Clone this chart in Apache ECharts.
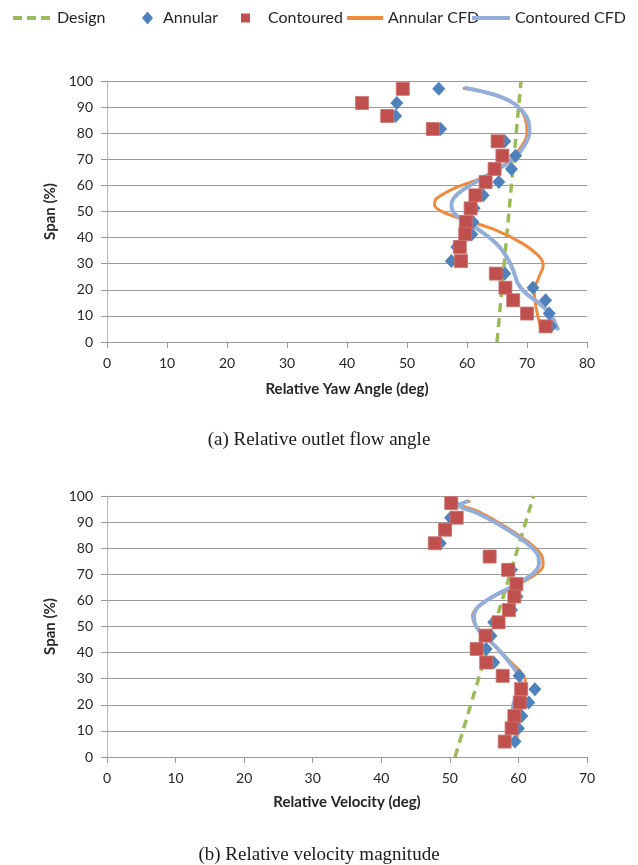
<!DOCTYPE html>
<html>
<head>
<meta charset="utf-8">
<script src="https://cdn.jsdelivr.net/npm/echarts@6/dist/echarts.min.js"></script>
<style>
  html, body { margin: 0; padding: 0; background: #fff; }
  #chart { width: 638px; height: 865px; }
</style>
</head>
<body>
<div id="chart"></div>
<script>
// ---- (a) Relative outlet flow angle ----
const spanA        = [97.0, 91.6, 86.6, 81.6, 76.9, 71.4, 66.3, 61.3, 56.2, 51.2, 46.0, 41.3, 36.4, 31.0, 26.2, 20.8, 16.0, 10.9, 6.0];
const yawAnnular   = [55.3, 48.3, 48.1, 55.6, 66.3, 68.1, 67.4, 65.3, 62.7, 61.2, 61.0, 60.8, 58.3, 57.4, 66.3, 71.0, 73.1, 73.7, 74.0];
const yawContoured = [49.3, 42.5, 46.7, 54.3, 65.1, 65.9, 64.6, 63.1, 61.4, 60.6, 59.8, 59.7, 58.8, 59.0, 64.8, 66.4, 67.7, 70.0, 73.1];

const yawDesignX = [65.0, 69.0];
const yawDesignY = [0, 100];

const yawAnnCfdX = [59.3, 62.1, 65.4, 68.6, 69.9, 70.0, 69.2, 67.1, 62.7, 57.7, 54.9, 54.6, 56.0, 59.9, 64.9, 69.3, 72.1, 72.7, 72.0, 71.2, 71.5, 72.0, 72.2];
const yawAnnCfdY = [97.2, 96.2, 94.1, 90.0, 83.7, 79.8, 75.4, 69.6, 63.2, 58.7, 54.9, 52.4, 49.8, 46.6, 42.8, 37.7, 32.6, 29.4, 24.9, 19.5, 13.4, 8.0, 6.0];

const yawConCfdX = [59.6, 62.1, 65.4, 68.2, 70.2, 70.4, 69.6, 67.9, 64.9, 61.0, 58.2, 57.4, 57.9, 59.6, 62.1, 64.9, 66.6, 67.7, 68.5, 69.9, 72.1, 73.8, 75.2];
const yawConCfdY = [97.4, 96.2, 94.1, 90.7, 84.9, 80.5, 75.4, 70.6, 65.8, 60.7, 56.2, 52.4, 49.2, 46.6, 42.8, 37.7, 32.6, 27.5, 22.3, 18.5, 14.7, 10.9, 4.5];

// ---- (b) Relative velocity magnitude ----
const spanB        = [97.3, 91.7, 87.1, 81.9, 76.8, 71.7, 66.3, 61.5, 56.3, 51.6, 46.5, 41.4, 36.2, 31.1, 26.0, 20.9, 15.7, 11.0, 5.9];
const velAnnular   = [50.4, 50.1, 49.4, 48.6, 55.9, 59.0, 59.8, 59.8, 59.0, 56.4, 56.0, 55.3, 56.4, 60.1, 62.4, 61.5, 60.5, 60.0, 59.5];
const velContoured = [50.2, 51.0, 49.3, 47.8, 55.8, 58.5, 59.7, 59.4, 58.6, 57.1, 55.2, 53.9, 55.3, 57.7, 60.4, 60.2, 59.4, 59.0, 58.0];

const velDesignX = [50.75, 62.2];
const velDesignY = [0, 100];

const velAnnCfdX = [53.0, 51.5, 54.2, 58.0, 61.6, 63.5, 63.6, 62.6, 60.1, 57.2, 54.3, 53.3, 53.6, 55.1, 56.8, 58.7, 60.4, 61.0, 60.9, 60.5, 60.0, 59.9, 59.8];
const velAnnCfdY = [98.0, 96.9, 94.0, 88.4, 82.0, 76.5, 73.5, 70.2, 66.3, 62.5, 58.0, 54.2, 51.0, 46.5, 42.0, 36.9, 32.4, 29.2, 25.4, 21.5, 16.4, 11.3, 6.8];

const velConCfdX = [52.7, 51.4, 53.9, 57.6, 61.0, 62.9, 63.0, 62.1, 59.4, 56.5, 54.1, 53.5, 53.9, 55.3, 57.0, 58.7, 59.9, 60.4, 59.9, 59.2, 59.2, 59.6];
const velConCfdY = [98.1, 96.4, 93.6, 88.4, 82.4, 77.0, 74.0, 70.2, 65.7, 61.8, 57.4, 53.5, 49.7, 45.8, 41.4, 36.2, 31.8, 27.9, 24.1, 19.0, 13.8, 8.7];

const xTicksA = [0, 80, 10];
const xTicksB = [0, 70, 10];

const pair = (xs, ys) => xs.map((x, i) => [x, ys[i]]);

const C_DESIGN = '#9BBB59';
const C_ANN = '#4F81BD';
const C_CON = '#C0504D';
const C_ANN_CFD = '#F08A3C';
const C_CON_CFD = '#93AED8';
const FONT = 'Lato';

function axisPair(idx, xr, xName, xGap) {
  const x = {
    type: 'value', gridIndex: idx, min: xr[0], max: xr[1], interval: xr[2],
    name: xName, nameLocation: 'middle', nameGap: xGap,
    nameTextStyle: { fontFamily: FONT, fontWeight: 'bold', fontSize: 15, color: '#262626' },
    axisLine: { show: true, lineStyle: { color: '#9a9a9a', width: 1 } },
    axisTick: { show: true, length: 6, lineStyle: { color: '#9a9a9a' } },
    axisLabel: { fontFamily: FONT, fontSize: 14, color: '#262626', margin: 14 },
    splitLine: { show: false }
  };
  const y = {
    type: 'value', gridIndex: idx, min: 0, max: 100, interval: 10,
    name: 'Span (%)', nameLocation: 'middle', nameGap: 46, nameRotate: 90,
    nameTextStyle: { fontFamily: FONT, fontWeight: 'bold', fontSize: 15, color: '#262626' },
    axisLine: { show: true, lineStyle: { color: '#b5b5b5', width: 1 } },
    axisTick: { show: true, length: 6, lineStyle: { color: '#9a9a9a' } },
    axisLabel: { fontFamily: FONT, fontSize: 14, color: '#262626', margin: 14 },
    splitLine: { show: true, lineStyle: { color: '#9a9a9a', width: 1 } }
  };
  return [x, y];
}

const [xa, ya] = axisPair(0, xTicksA, 'Relative Yaw Angle (deg)', 40);
const [xb, yb] = axisPair(1, xTicksB, 'Relative Velocity (deg)', 38);

function seriesFor(idx, dX, dY, ann, con, span, annSpan, aCfd, cCfd) {
  return [
    {
      name: 'Design', type: 'line', xAxisIndex: idx, yAxisIndex: idx,
      data: pair(dX, dY), showSymbol: false, symbol: 'none', z: 2,
      lineStyle: { color: C_DESIGN, width: 3.5, type: [9, 6] },
      itemStyle: { color: C_DESIGN }
    },
    {
      name: 'Annular CFD', type: 'line', xAxisIndex: idx, yAxisIndex: idx,
      data: aCfd, smooth: 0.35, showSymbol: false, symbol: 'none', z: 3,
      lineStyle: { color: C_ANN_CFD, width: 3 },
      itemStyle: { color: C_ANN_CFD }
    },
    {
      name: 'Contoured CFD', type: 'line', xAxisIndex: idx, yAxisIndex: idx,
      data: cCfd, smooth: 0.35, showSymbol: false, symbol: 'none', z: 4,
      lineStyle: { color: C_CON_CFD, width: 4 },
      itemStyle: { color: C_CON_CFD }
    },
    {
      name: 'Annular', type: 'scatter', xAxisIndex: idx, yAxisIndex: idx,
      data: pair(ann, annSpan), symbol: 'diamond', symbolSize: [13, 14], z: 5,
      itemStyle: { color: C_ANN, opacity: 1 }
    },
    {
      name: 'Contoured', type: 'scatter', xAxisIndex: idx, yAxisIndex: idx,
      data: pair(con, span), symbol: 'rect', symbolSize: 13, z: 6,
      itemStyle: { color: C_CON, opacity: 1, borderColor: '#c9736f', borderWidth: 0.8 }
    }
  ];
}

function legendItem(name, left, icon, w, h, pad) {
  return {
    data: [{ name: name, icon: icon }], left: left, top: 5,
    itemWidth: w, itemHeight: h, itemGap: 0, selectedMode: false,
    itemStyle: { borderWidth: 0 },
    textStyle: { fontFamily: FONT, fontSize: 16, color: '#262626', padding: [0, 0, 0, pad] }
  };
}

const DASH_ICON = 'path://M0,0h9v4h-9z M14,0h9v4h-9z M28,0h9v4h-9z';

const option = {
  backgroundColor: '#ffffff',
  animation: false,
  legend: [
    legendItem('Design', 8, DASH_ICON, 37, 4, 2),
    legendItem('Annular', 137, 'diamond', 11, 13, 5),
    legendItem('Contoured', 236, 'rect', 9, 9, 13),
    legendItem('Annular CFD', 342, 'rect', 36, 4, 0),
    legendItem('Contoured CFD', 467, 'rect', 38, 4, 0)
  ],
  grid: [
    { left: 107, top: 81, width: 480, height: 261, containLabel: false },
    { left: 107, top: 496, width: 480, height: 261, containLabel: false }
  ],
  xAxis: [xa, xb],
  yAxis: [ya, yb],
  title: [
    { text: '(a) Relative outlet flow angle', left: 'center', top: 426,
      textStyle: { fontFamily: 'Liberation Serif', fontWeight: 'normal', fontSize: 19, color: '#1a1a1a' } },
    { text: '(b) Relative velocity magnitude', left: 'center', top: 841,
      textStyle: { fontFamily: 'Liberation Serif', fontWeight: 'normal', fontSize: 19, color: '#1a1a1a' } }
  ],
  series: [
    ...seriesFor(0, yawDesignX, yawDesignY, yawAnnular, yawContoured, spanA, spanA,
      pair(yawAnnCfdX, yawAnnCfdY), pair(yawConCfdX, yawConCfdY)),
    ...seriesFor(1, velDesignX, velDesignY, velAnnular, velContoured, spanB, spanB,
      pair(velAnnCfdX, velAnnCfdY), pair(velConCfdX, velConCfdY))
  ]
};

const chart = echarts.init(document.getElementById('chart'), null, { renderer: 'canvas' });
chart.setOption(option);
</script>
</body>
</html>
